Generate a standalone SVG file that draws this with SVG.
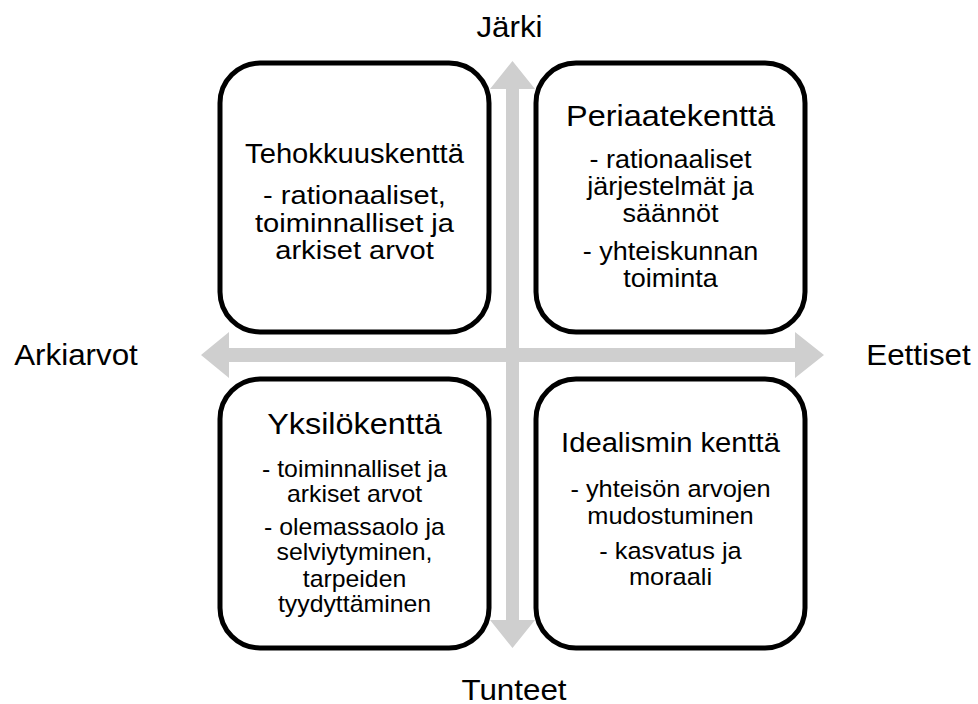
<svg xmlns="http://www.w3.org/2000/svg" width="978" height="704" viewBox="0 0 978 704">
<style>
  .box { fill: #ffffff; stroke: #000000; stroke-width: 5; }
  .arrow { fill: #cfcfcf; }
  text { font-family: "Liberation Sans", Arial, sans-serif; fill: #000000; text-anchor: middle; }
  .lbl { font-size: 29px; }
</style>
<g id="connectors">
  <polygon class="arrow" points="512.5,61 535,89 519,89 519,620 535,620 512.5,648 490,620 506,620 506,89 490,89"/>
  <polygon class="arrow" points="201,355 229,332 229,348 795,348 795,332 824,355 795,378 795,362 229,362 229,378"/>
</g>
<g id="label-jarki" transform="translate(509.5,0) scale(1.08,1)"><text class="lbl" x="0" y="37">Järki</text></g>
<g id="label-arkiarvot" transform="translate(76,0) scale(1.08,1)"><text class="lbl" x="0" y="365">Arkiarvot</text></g>
<g id="label-eettiset" transform="translate(918.5,0) scale(1.08,1)"><text class="lbl" x="0" y="365">Eettiset</text></g>
<g id="label-tunteet" transform="translate(514,0) scale(1.08,1)"><text class="lbl" x="0" y="700">Tunteet</text></g>

<g id="node-tehokkuus">
  <rect class="box" x="220" y="63" width="269" height="269" rx="40"/>
  <g transform="translate(354.5,0) scale(1.08,1)">
    <text x="0" y="163" font-size="27">Tehokkuuskenttä</text>
  </g>
  <g transform="translate(354.5,0) scale(1.12,1)">
    <text font-size="26"><tspan x="0" y="204">- rationaaliset,</tspan><tspan x="0" y="232">toiminnalliset ja</tspan><tspan x="0" y="259">arkiset arvot</tspan></text>
  </g>
</g>
<g id="node-periaate">
  <rect class="box" x="536" y="63" width="269" height="269" rx="40"/>
  <g transform="translate(670.5,0) scale(1.08,1)">
    <text x="0" y="126" font-size="30">Periaatekenttä</text>
    <text font-size="25"><tspan x="0" y="168">- rationaaliset</tspan><tspan x="0" y="195">järjestelmät ja</tspan><tspan x="0" y="222">säännöt</tspan><tspan x="0" y="260">- yhteiskunnan</tspan><tspan x="0" y="287">toiminta</tspan></text>
  </g>
</g>
<g id="node-yksilo">
  <rect class="box" x="220" y="379" width="269" height="269" rx="40"/>
  <g transform="translate(354.5,0) scale(1.08,1)">
    <text x="0" y="434" font-size="30">Yksilökenttä</text>
    <text font-size="23"><tspan x="0" y="477">- toiminnalliset ja</tspan><tspan x="0" y="502">arkiset arvot</tspan><tspan x="0" y="535">- olemassaolo ja</tspan><tspan x="0" y="560">selviytyminen,</tspan><tspan x="0" y="587">tarpeiden</tspan><tspan x="0" y="612">tyydyttäminen</tspan></text>
  </g>
</g>
<g id="node-idealismi">
  <rect class="box" x="536" y="379" width="269" height="269" rx="40"/>
  <g transform="translate(670.5,0) scale(1.08,1)">
    <text x="0" y="452" font-size="27">Idealismin kenttä</text>
    <text font-size="23.5"><tspan x="0" y="497">- yhteisön arvojen</tspan><tspan x="0" y="524">mudostuminen</tspan><tspan x="0" y="559">- kasvatus ja</tspan><tspan x="0" y="585">moraali</tspan></text>
  </g>
</g>
</svg>
